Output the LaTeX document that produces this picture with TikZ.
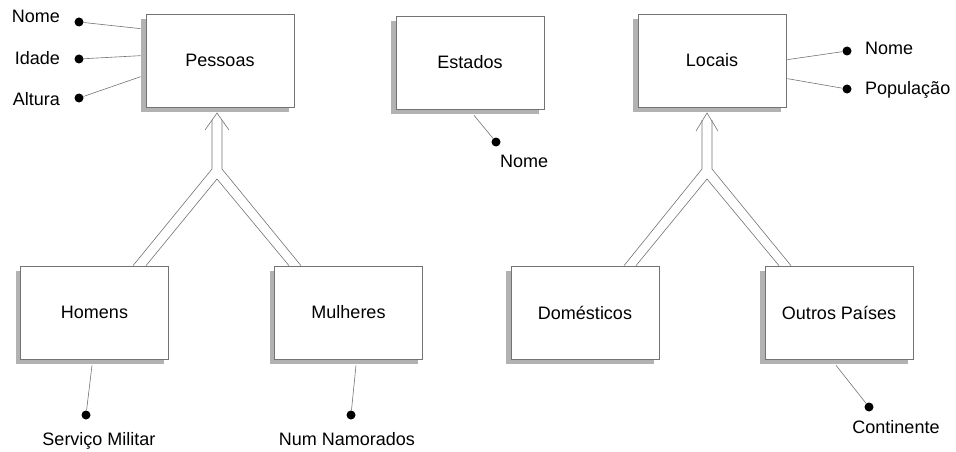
\documentclass[tikz,border=0pt]{standalone}
\usepackage{fontspec}
\setmainfont{Liberation Sans}
\usetikzlibrary{shadows}

\tikzset{
  entity/.style={draw=gray!90!black, fill=white, line width=0.7pt,
    minimum width=148pt, minimum height=93pt, inner sep=0pt,
    font=\fontsize{18}{21}\selectfont,
    drop shadow={shadow xshift=-5pt, shadow yshift=-5pt, fill=gray!60, opacity=1}},
  attr/.style={circle, fill=black, inner sep=0pt, minimum size=9pt},
  txt/.style={inner sep=0pt, font=\fontsize{18}{21}\selectfont},
  link/.style={draw=gray!90!black, line width=0.6pt},
  isa/.style={draw=gray!90!black, line width=0.6pt}
}

\begin{document}
\begin{tikzpicture}[x=1pt,y=-1pt]
	\useasboundingbox (0,0) rectangle (956,452);

	% entidades
	\node[entity] (pessoas) at (220,60.5) {Pessoas};
	\node[entity] (estados) at (470,62.5) {Estados};
	\node[entity] (locais) at (712,60.5) {Locais};
	\node[entity] (homens) at (94.5,312.5) {Homens};
	\node[entity] (mulheres) at (348.5,312.5) {Mulheres};
	\node[entity] (domesticos) at (585,312.5) {Domésticos};
	\node[entity] (outros) at (839,312.5) {Outros Países};

	% atributos de Pessoas
	\node[attr] (pnome) at (79,22) {};
	\node[attr] (pidade) at (79,59) {};
	\node[attr] (paltura) at (79,98) {};
	\node[txt, anchor=base east] (pnomet) at (60,23) {Nome};
	\node[txt, anchor=base east] (pidadet) at (60,65) {Idade};
	\node[txt, anchor=base east] (palturat) at (60,105) {Altura};
	\draw[link] (pnome) -- ([shift={(-5,15)}]pessoas.north west);
	\draw[link] (pidade) -- ([shift={(-5,42)}]pessoas.north west);
	\draw[link] (paltura) -- ([shift={(-5,63)}]pessoas.north west);

	% atributo de Estados
	\node[attr] (enome) at (496,142) {};
	\node[txt, anchor=base west] (enomet) at (500,167) {Nome};
	\draw[link] ([shift={(4,6)}]estados.south) -- (enome);

	% atributos de Locais
	\node[attr] (lnome) at (847,51) {};
	\node[attr] (lpop) at (847,89) {};
	\node[txt, anchor=base west] (lnomet) at (865,55) {Nome};
	\node[txt, anchor=base west] (lpopt) at (865,95) {População};
	\draw[link] ([shift={(1,46)}]locais.north east) -- (lnome);
	\draw[link] ([shift={(1,65)}]locais.north east) -- (lpop);

	% atributos das subclasses
	\node[attr] (hserv) at (86,415) {};
	\node[txt, anchor=base] (hservt) at (99,445) {Serviço Militar};
	\draw[link] ([shift={(-2.5,6)}]homens.south) -- (hserv);
	\node[attr] (mnum) at (351,415) {};
	\node[txt, anchor=base] (mnumt) at (347,445) {Num Namorados};
	\draw[link] ([shift={(7.5,6)}]mulheres.south) -- (mnum);
	\node[attr] (ocont) at (869,407) {};
	\node[txt, anchor=base] (ocontt) at (896,433) {Continente};
	\draw[link] ([shift={(-3,6)}]outros.south) -- (ocont);

	% generalizacao Pessoas
	\coordinate (ptip) at (217,113);
	\coordinate (pfork) at (217,174);
	\draw[isa] ([xshift=38.5]homens.north) -- ([shift={(-5,-5)}]pfork) -- ([shift={(-5,7)}]ptip);
	\draw[isa] ([xshift=51.5]homens.north) -- ([shift={(0,5)}]pfork) -- ([xshift=-59.5]mulheres.north);
	\draw[isa] ([xshift=-47.5]mulheres.north) -- ([shift={(5,-5)}]pfork) -- ([shift={(5,7)}]ptip);
	\draw[isa] ([shift={(-12,17)}]ptip) -- (ptip) -- ([shift={(12,17)}]ptip);

	% generalizacao Locais
	\coordinate (ltip) at (707,113);
	\coordinate (lfork) at (707,174);
	\draw[isa] ([xshift=39]domesticos.north) -- ([shift={(-5,-5)}]lfork) -- ([shift={(-5,7)}]ltip);
	\draw[isa] ([xshift=51]domesticos.north) -- ([shift={(0,5)}]lfork) -- ([xshift=-60]outros.north);
	\draw[isa] ([xshift=-48]outros.north) -- ([shift={(5,-5)}]lfork) -- ([shift={(5,7)}]ltip);
	\draw[isa] ([shift={(-11,18)}]ltip) -- (ltip) -- ([shift={(11,18)}]ltip);
\end{tikzpicture}
\end{document}
